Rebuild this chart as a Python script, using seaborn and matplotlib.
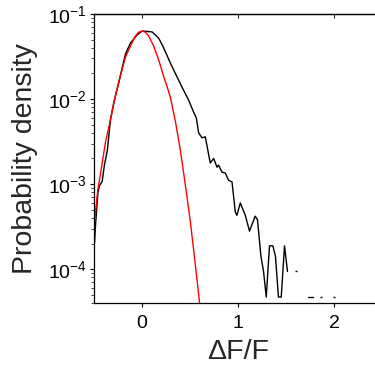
import pandas as pd
import matplotlib
matplotlib.use("Agg")
import matplotlib.pyplot as plt
import matplotlib.ticker as mticker
import seaborn as sns

# measured distribution (black), NaN gaps split into segments
black_x = [-0.495, -0.485, -0.459, -0.444, -0.415, -0.392, -0.361, -0.329, -0.295, -0.243,
           -0.205, -0.173, -0.121, -0.052, 0.0, 0.045, 0.104, 0.138, 0.172, 0.211,
           0.242, 0.294, 0.346, 0.415, 0.484, 0.536, 0.564, 0.588, 0.623, 0.657,
           0.709, 0.744, 0.779, 0.795, 0.831, 0.865, 0.899, 0.935, 0.969, 0.986,
           1.021, 1.073, 1.117, 1.176, 1.200, 1.236, 1.263, 1.291, 1.325, 1.360,
           1.387, 1.418, 1.447, 1.481, 1.512,
           1.724, 1.753, 1.782]
black_y = [2.0e-4, 3.2e-4, 8.0e-4, 9.5e-4, 1.08e-3, 1.67e-3, 2.5e-3, 5.7e-3, 9.0e-3, 1.54e-2,
           2.38e-2, 3.38e-2, 4.56e-2, 5.66e-2, 6.3e-2, 6.25e-2, 6.15e-2, 5.66e-2, 5.2e-2, 4.3e-2,
           3.6e-2, 2.65e-2, 2.0e-2, 1.38e-2, 9.7e-3, 7.0e-3, 6.0e-3, 4.0e-3, 3.5e-3, 3.6e-3,
           1.77e-3, 2.0e-3, 1.58e-3, 1.67e-3, 1.38e-3, 1.35e-3, 1.11e-3, 1.06e-3, 4.7e-4, 4.3e-4,
           6.0e-4, 4.3e-4, 2.8e-4, 4.2e-4, 3.8e-4, 1.41e-4, 9.4e-5, 4.7e-5, 1.88e-4, 1.88e-4,
           1.41e-4, 4.7e-5, 4.7e-5, 1.88e-4, 9.4e-5,
           4.7e-5, 4.7e-5, 4.7e-5]
black_seg = [0] * 55 + [1] * 3

# single bins surrounded by empty bins
lone_x = [1.602, 1.858, 2.0]
lone_y = [9.4e-5, 4.7e-5, 4.7e-5]

# gaussian fit (red)
red_x = [-0.495, -0.461, -0.433, -0.381, -0.329, -0.277, -0.243, -0.173, -0.121, -0.070,
         -0.035, 0.0, 0.035, 0.069, 0.120, 0.172, 0.224, 0.260, 0.294, 0.346,
         0.398, 0.450, 0.502, 0.553, 0.598]
red_y = [3.6e-4, 8.5e-4, 1.31e-3, 3.1e-3, 5.7e-3, 1.1e-2, 1.6e-2, 3.1e-2, 4.2e-2, 5.5e-2,
         6.1e-2, 6.3e-2, 6.1e-2, 5.5e-2, 4.2e-2, 2.9e-2, 1.85e-2, 1.4e-2, 1.05e-2, 5.5e-3,
         2.5e-3, 9.7e-4, 3.6e-4, 1.15e-4, 4.0e-5]

x_ticks = [0, 1, 2]

sns.set_style("ticks")
plt.rcParams["font.family"] = ["Liberation Sans", "DejaVu Sans"]
plt.rcParams["mathtext.default"] = "regular"

black_df = pd.DataFrame({"x": black_x, "y": black_y, "seg": black_seg})

fig = plt.figure(figsize=(3.75, 3.67), dpi=100)
ax = fig.add_axes([0.2507, 0.1744, 0.7693, 0.7875])

sns.lineplot(data=black_df, x="x", y="y", units="seg", estimator=None,
             color="black", linewidth=1.0, sort=False, ax=ax)
sns.scatterplot(x=lone_x, y=lone_y, marker="_", s=2, color="black",
                linewidth=1.0, ax=ax)
sns.lineplot(x=red_x, y=red_y, color="#ff0000", linewidth=1.0, sort=False, ax=ax)

ax.set_yscale("log")
ax.set_xlim(-0.5, 2.5)
ax.set_ylim(4e-5, 1e-1)
ax.set_xticks(x_ticks)
ax.set_xticklabels([str(t) for t in x_ticks])
ax.yaxis.set_minor_formatter(mticker.NullFormatter())

ax.set_xlabel("ΔF/F", fontsize=20.5, labelpad=5)
ax.set_ylabel("Probability density", fontsize=20.5, labelpad=7)

for s in ax.spines.values():
    s.set_linewidth(0.9)
    s.set_color("black")
ax.spines["right"].set_visible(False)

ax.tick_params(axis="both", which="major", labelsize=14, length=3, width=0.8,
               direction="out", pad=2, colors="black")
ax.tick_params(axis="x", which="major", pad=6)
ax.tick_params(axis="y", which="minor", length=2, width=0.6, direction="out")

top = ax.secondary_xaxis("top")
top.set_xticks(x_ticks)
top.tick_params(direction="in", length=3, width=0.8, labeltop=False)
top.spines["top"].set_linewidth(0.9)

fig.savefig("out.png", dpi=100)
